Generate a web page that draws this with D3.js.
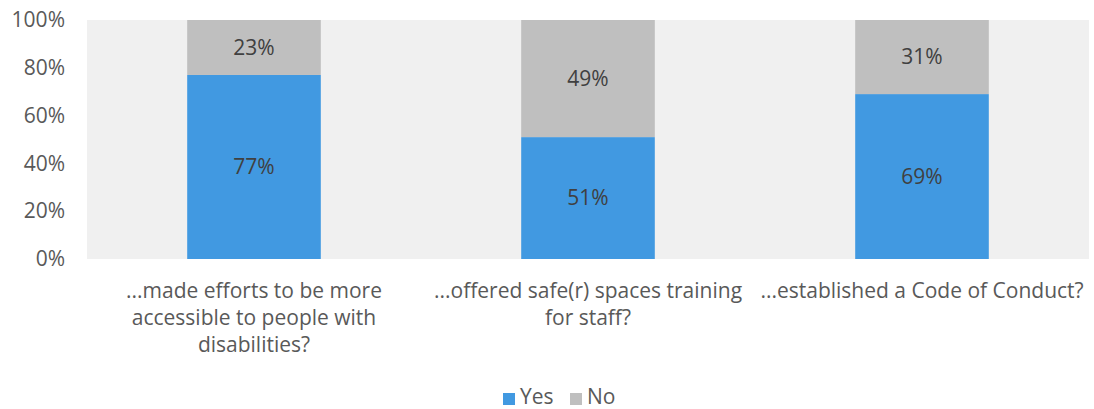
<!DOCTYPE html>
<html><head><meta charset="utf-8">
<script src="https://cdn.jsdelivr.net/npm/d3@7"></script>
<style>body{margin:0;background:#fff;} text{font-family:"Open Sans","Noto Sans",sans-serif;}</style>
</head><body>
<svg id="chart" width="1094" height="409"></svg>
<script>
const categories = [
  ["...made efforts to be more", "accessible to people with", "disabilities?"],
  ["...offered safe(r) spaces training", "for staff?"],
  ["...established a Code of Conduct?"]
];
const categoryKeys = ["c1","c2","c3"];
const seriesNames = ["Yes","No"];
const yesValues = [0.77, 0.51, 0.69];
const noValues = [0.23, 0.49, 0.31];
const yTicks = [0, 0.2, 0.4, 0.6, 0.8, 1.0];
const colors = ["#4199e1", "#bfbfbf"];

const svg = d3.select("#chart");
const m = {left: 87, right: 5, top: 20, bottom: 150};
const W = 1094, H = 409;
const FS = 21;
const x = d3.scaleBand().domain(categoryKeys).range([m.left, W - m.right]).paddingInner(0.6).paddingOuter(0.3);
const y = d3.scaleLinear().domain([0, 1]).range([259, 20]);

svg.append("rect").attr("x", m.left).attr("y", y(1)).attr("width", W - m.right - m.left).attr("height", y(0) - y(1)).attr("fill", "#f0f0f0");

const data = categoryKeys.map((k, i) => ({key: k, Yes: yesValues[i], No: noValues[i]}));
const stacked = d3.stack().keys(seriesNames)(data);

stacked.forEach((s, si) => {
  svg.append("g").selectAll("rect").data(s).join("rect")
    .attr("x", d => x(d.data.key))
    .attr("width", x.bandwidth())
    .attr("y", d => y(d[1]))
    .attr("height", d => y(d[0]) - y(d[1]))
    .attr("fill", colors[si]);
  svg.append("g").selectAll("text").data(s).join("text")
    .attr("x", d => x(d.data.key) + x.bandwidth() / 2)
    .attr("y", d => (y(d[0]) + y(d[1])) / 2)
    .attr("dy", "0.35em")
    .attr("text-anchor", "middle")
    .attr("font-size", FS)
    .attr("fill", "#404040")
    .text(d => Math.round((d[1] - d[0]) * 100) + "%");
});

const yAxis = d3.axisLeft(y).tickValues(yTicks).tickFormat(d3.format(".0%")).tickSize(0).tickPadding(0);
const ga = svg.append("g").attr("transform", `translate(65,0)`).call(yAxis);
ga.select(".domain").remove();
ga.selectAll("text").attr("font-size", FS).attr("fill", "#595959").attr("font-family", "'Open Sans',sans-serif");

const xl = svg.append("g");
categories.forEach((lines, i) => {
  const cx = x(categoryKeys[i]) + x.bandwidth() / 2;
  const t = xl.append("text")
    .attr("x", cx)
    .attr("y", 298)
    .attr("text-anchor", "middle")
    .attr("font-size", FS)
    .attr("fill", "#595959");
  lines.forEach((l, j) => t.append("tspan").attr("x", cx).attr("y", 298 + j * 27).text(l));
});

const leg = svg.append("g");
const legX = [503, 570];
seriesNames.forEach((n, i) => {
  leg.append("rect").attr("x", legX[i]).attr("y", 393).attr("width", 12).attr("height", 12).attr("fill", colors[i]);
  leg.append("text").attr("x", legX[i] + 17).attr("y", 404).attr("font-size", FS).attr("fill", "#595959").text(n);
});
</script>
</body></html>
